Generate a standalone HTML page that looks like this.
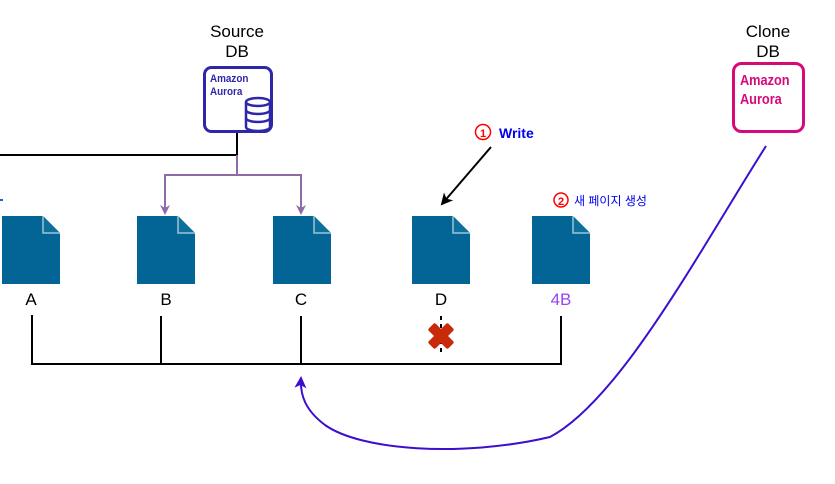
<!DOCTYPE html>
<html><head><meta charset="utf-8"><style>
body{margin:0;background:#fff;width:835px;height:479px;overflow:hidden}
</style></head><body>
<svg width="835" height="479" xmlns="http://www.w3.org/2000/svg" font-family="Liberation Sans, Noto Sans CJK KR, sans-serif">
<defs>
<g id="doc">
<path d="M0 0 H41 L58 17 V68 H0 Z" fill="#036595"/>
<path d="M41 0 V17 H58" fill="#0d6f9b" stroke="#9ec3d6" stroke-width="1.5"/>
</g>
<marker id="ap" markerWidth="10" markerHeight="10" refX="8" refY="5" orient="auto" markerUnits="userSpaceOnUse"><path d="M0 0 L10 5 L0 10 L3 5 Z" fill="#8e6aa8"/></marker>
<marker id="ak" markerWidth="12" markerHeight="12" refX="10" refY="6" orient="auto" markerUnits="userSpaceOnUse"><path d="M0 0 L12 6 L0 12 L3 6 Z" fill="#000"/></marker>
<marker id="av" markerWidth="12" markerHeight="12" refX="10" refY="6" orient="auto" markerUnits="userSpaceOnUse"><path d="M0 0 L12 6 L0 12 L3 6 Z" fill="#3c0fcf"/></marker>
</defs>
<text x="237" y="37" font-size="17" text-anchor="middle">Source</text>
<text x="237" y="57" font-size="17" text-anchor="middle">DB</text>
<rect x="204.5" y="67.5" width="67" height="64" rx="7" fill="#fff" stroke="#2e27a8" stroke-width="3"/>
<text x="210" y="82" font-size="11" font-weight="bold" fill="#2e27a8" transform="translate(210,0) scale(0.9,1) translate(-210,0)">Amazon</text>
<text x="210" y="95" font-size="11" font-weight="bold" fill="#2e27a8" transform="translate(210,0) scale(0.9,1) translate(-210,0)">Aurora</text>
<g fill="#fff" stroke="#2e27a8" stroke-width="2.5">
<path d="M246 102 V127 A12 4 0 0 0 270 127 V102"/>
<ellipse cx="258" cy="102" rx="12" ry="4"/>
<path d="M246 110 A12 4 0 0 0 270 110 M246 118 A12 4 0 0 0 270 118" fill="none"/>
</g>
<text x="768" y="37" font-size="17" text-anchor="middle">Clone</text>
<text x="768" y="57" font-size="17" text-anchor="middle">DB</text>
<rect x="733.5" y="63.5" width="70" height="68" rx="8" fill="#fff" stroke="#d6097a" stroke-width="3"/>
<text x="740" y="85" font-size="15" font-weight="bold" fill="#d6097a" transform="translate(740,0) scale(0.85,1) translate(-740,0)">Amazon</text>
<text x="740" y="104" font-size="15" font-weight="bold" fill="#d6097a" transform="translate(740,0) scale(0.85,1) translate(-740,0)">Aurora</text>
<path d="M0 155 H237 V133" fill="none" stroke="#000" stroke-width="2"/>
<path d="M237 155 V175" stroke="#8e6aa8" stroke-width="2"/>
<path d="M237 175 H165 V213" fill="none" stroke="#8e6aa8" stroke-width="2" marker-end="url(#ap)"/>
<path d="M237 175 H301 V213" fill="none" stroke="#8e6aa8" stroke-width="2" marker-end="url(#ap)"/>
<path d="M0 200 L3 200" stroke="#3355cc" stroke-width="2"/>
<use href="#doc" x="2" y="216"/>
<use href="#doc" x="137" y="216"/>
<use href="#doc" x="273" y="216"/>
<use href="#doc" x="412" y="216"/>
<use href="#doc" x="532" y="216"/>
<g font-size="17" text-anchor="middle">
<text x="31" y="305">A</text><text x="166" y="305">B</text><text x="301" y="305">C</text><text x="441" y="305">D</text>
<text x="561" y="305" fill="#9a44f0">4B</text></g>
<path d="M32 315 V364 H561 V316 M161 316 V364 M301 316 V364" fill="none" stroke="#000" stroke-width="2"/>
<path d="M441 316 V354" stroke="#000" stroke-width="2" stroke-dasharray="4 4"/>
<g transform="translate(441,336) rotate(45)"><rect x="-14" y="-5" width="28" height="10" rx="2" fill="#c92a0a"/><rect x="-5" y="-14" width="10" height="28" rx="2" fill="#c92a0a"/></g>
<path d="M491 147 L442 204" stroke="#000" stroke-width="2" marker-end="url(#ak)"/>
<circle cx="483" cy="132" r="7.5" fill="none" stroke="#f00" stroke-width="1.5"/>
<text x="483" y="137" font-size="11" font-weight="bold" fill="#f00" text-anchor="middle">1</text>
<text x="499" y="138" font-size="14" font-weight="bold" fill="#0000ee">Write</text>
<circle cx="561" cy="200" r="7" fill="none" stroke="#f00" stroke-width="1.5"/>
<text x="561" y="205" font-size="11" font-weight="bold" fill="#f00" text-anchor="middle">2</text>
<text x="574" y="205" font-size="12" fill="#0000ee">새 페이지 생성</text>
<path d="M766 146 C700 250 620 400 550 437 C460 458 360 450 325 425 C305 410 300 395 301 378" fill="none" stroke="#3c0fcf" stroke-width="2" marker-end="url(#av)"/>
</svg>
</body></html>
